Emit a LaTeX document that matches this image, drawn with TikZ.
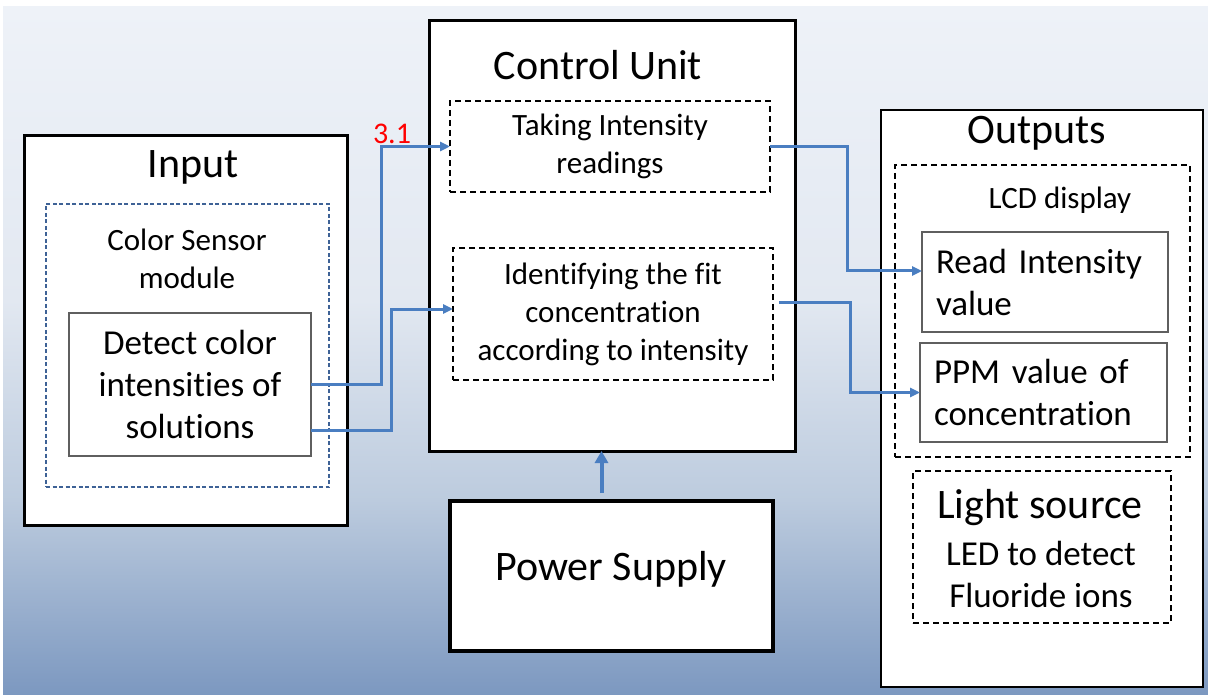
\documentclass[tikz,border=0pt]{standalone}
\usepackage{fontspec}
\setmainfont{Carlito}[Ligatures=NoCommon]
\usetikzlibrary{arrows.meta,calc}
\definecolor{linkblue}{RGB}{74,126,193}
\definecolor{sensorblue}{RGB}{62,98,150}
\definecolor{edgegray}{RGB}{95,95,95}
\definecolor{bgA}{RGB}{238,242,248}
\definecolor{bgB}{RGB}{226,232,241}
\definecolor{bgC}{RGB}{188,203,222}
\definecolor{bgD}{RGB}{124,152,192}
\begin{document}
\begin{tikzpicture}[x=1pt,y=-1pt,
  every node/.style={inner sep=0pt,outer sep=0pt},
  unitbox/.style={draw=black,line width=3pt,fill=white,anchor=north west},
  partbox/.style={draw=black,line width=1.3pt,dash pattern=on 6pt off 4pt,anchor=north west,align=center},
  sensorbox/.style={draw=sensorblue,line width=1.3pt,dash pattern=on 4pt off 2.5pt,anchor=north west},
  itembox/.style={draw=edgegray,line width=1.2pt,fill=white,anchor=north west},
  bigtext/.style={font=\fontsize{42}{50}\selectfont},
  midtext/.style={font=\fontsize{35}{42}\selectfont},
  smalltext/.style={font=\fontsize{31}{38}\selectfont},
  conn/.style={draw=linkblue,line width=3pt,-{Triangle[length=10pt,width=9pt]}},
  feed/.style={draw=linkblue,line width=4pt,-{Triangle[length=12pt,width=13pt]}}
]
% canvas and backdrop
\useasboundingbox (0,0) rectangle (1208,695);
\fill[white] (0,0) rectangle (1208,695);
\shade[top color=bgA,bottom color=bgB] (3,7) rectangle (1208,300.5);
\shade[top color=bgB,bottom color=bgC] (3,300) rectangle (1208,500.5);
\shade[top color=bgC,bottom color=bgD] (3,500) rectangle (1208,695);

% input stage
\node[unitbox,minimum width=323pt,minimum height=389pt] (input) at (24,136) {};
\node[bigtext] (inputtitle) at (193,167) {Input};
\node[sensorbox,minimum width=283pt,minimum height=283pt] (sensor) at (46,204) {};
\node[smalltext,align=center] (sensortitle) at (187,259) {Color Sensor\\module};
\node[itembox,midtext,align=center,minimum width=242pt,minimum height=143pt] (detect) at (69,313)
  {Detect color\\intensities of\\solutions};

% control unit
\node[unitbox,minimum width=366pt,minimum height=430pt] (cu) at (429,21) {};
\node[bigtext] (cutitle) at (598,65) {Control Unit};
\node[partbox,smalltext,minimum width=320pt,minimum height=91pt] (take) at (450,101)
  {Taking Intensity\\readings};
\node[partbox,smalltext,minimum width=320pt,minimum height=132pt] (ident) at (453,248)
  {Identifying the fit\\concentration\\according to intensity};

% power supply
\node[unitbox,line width=3.5pt,minimum width=323pt,minimum height=150pt] (power) at (450,501) {};
\node[bigtext] (powertitle) at (611,569) {Power Supply};

% outputs
\node[unitbox,line width=2.5pt,minimum width=322pt,minimum height=577pt] (outputs) at (881,110) {};
\node[bigtext] (outtitle) at (1037,133) {Outputs};
\node[partbox,minimum width=295pt,minimum height=292pt] (lcd) at (895,165) {};
\node[smalltext] (lcdtitle) at (1060,200) {LCD display};
\node[itembox,midtext,align=left,text width=218pt,inner xsep=14pt,minimum height=100pt] (read) at (922,232)
  {Read Intensity\\value};
\node[itembox,midtext,align=left,text width=219pt,inner xsep=14pt,minimum height=99pt] (ppm) at (920,343)
  {PPM value of\\concentration};
\node[partbox,minimum width=258pt,minimum height=152pt] (light) at (913,471) {};
\node[bigtext] (lighttitle) at (1040,508) {Light source};
\node[midtext,align=center] (lightdesc) at (1041,574) {LED to detect\\Fluoride ions};

% signal paths
\draw[conn] (detect.east) -- ++(70,0) |- (take.west);
\node[font=\fontsize{30}{36}\selectfont,text=red] (step) at (392,134) {3.1};
\draw[conn] ($(detect.east)+(0,46)$) -- ++(80,0) |- ($(ident.west)+(0,-5)$);
\draw[conn] (take.east) -- ++(77,0) |- ($(read.west)+(0,-11)$);
\draw[conn] ($(ident.east)+(6,-12)$) -- ++(71,0) |- (ppm.west);
\coordinate (feedstart) at ($(power.north)+(-10,-8)$);
\draw[feed] (feedstart) -- (feedstart |- cu.south);
\end{tikzpicture}
\end{document}
